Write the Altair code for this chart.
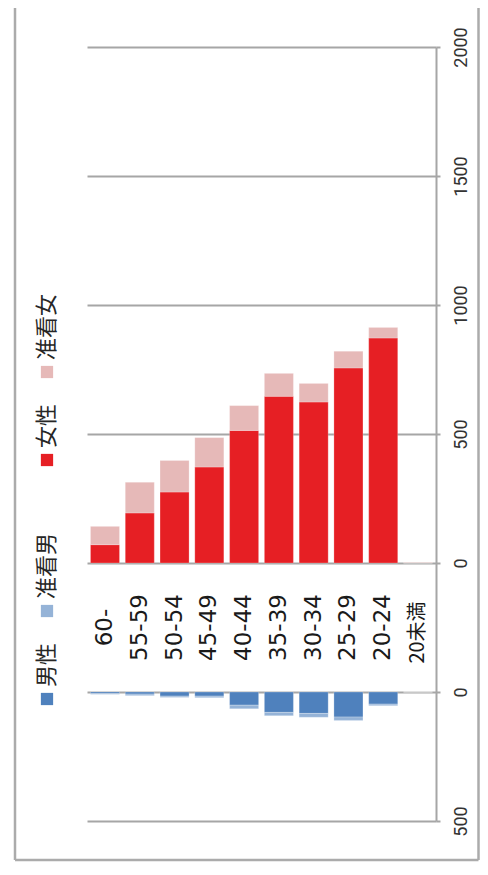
import altair as alt
import pandas as pd

# ---- data ----
ages = ["60-", "55-59", "50-54", "45-49", "40-44", "35-39", "30-34", "25-29", "20-24", "20未満"]
female = [71, 194, 275, 372, 514, 646, 624, 756, 872, 0]          # 女性
female_assoc = [71, 119, 122, 114, 96, 89, 72, 65, 41, 2]          # 准看女
male = [6, 8, 16, 16, 51, 79, 83, 97, 47, 0]                        # 男性
male_assoc = [3, 6, 5, 6, 14, 13, 15, 13, 6, 0]                     # 准看男

series = ["男性", "准看男", "女性", "准看女"]
colors = ["#4F81BD", "#95B3D7", "#E61F24", "#E6B9B8"]
tick_values = [-1000, -500, 0, 500, 1000, 1500, 2000]

GAP = 500  # gap (in value units) between the two panels, holding the age labels

rows = []
for a, f, fa, m, ma in zip(ages, female, female_assoc, male, male_assoc):
    rows.append({"age": a, "series": "女性", "v0": 0, "v1": f})
    rows.append({"age": a, "series": "准看女", "v0": f, "v1": f + fa})
    rows.append({"age": a, "series": "男性", "v0": -GAP, "v1": -GAP - m})
    rows.append({"age": a, "series": "准看男", "v0": -GAP - m, "v1": -GAP - m - ma})
df = pd.DataFrame(rows)
labels_df = pd.DataFrame({"age": ages})

W, H = 349, 774
GRID = "#A6A6A6"

x_enc = alt.X("age:N", sort=ages, axis=None,
              scale=alt.Scale(paddingInner=0.165, paddingOuter=0.1))
y_scale = alt.Scale(domain=[-1000, 2000], nice=False, zero=False)

bars = alt.Chart(df).mark_bar(stroke="white", strokeWidth=0.4, strokeOpacity=0.6).encode(
    x=x_enc,
    y=alt.Y("v0:Q", scale=y_scale,
            axis=alt.Axis(orient="right", values=tick_values, title=None,
                          labelExpr="datum.value < 0 ? format(-datum.value - 500, 'd') : format(datum.value, 'd')",
                          grid=True, gridColor=GRID, gridWidth=2,
                          domainColor=GRID, domainWidth=2,
                          tickColor=GRID, tickWidth=2, tickSize=4,
                          labelAngle=270, labelAlign="center", labelBaseline="middle",
                          labelPadding=21, labelFont="Roboto", labelFontSize=18,
                          labelColor="#333333")),
    y2="v1:Q",
    color=alt.Color("series:N", scale=alt.Scale(domain=series, range=colors), legend=None),
)

age_text = alt.Chart(labels_df).transform_filter(
    alt.datum.age != "20未満"
).mark_text(angle=270, align="center", baseline="middle", font="DejaVu Sans",
            fontSize=23, color="#1A1A1A").encode(
    x=x_enc, y=alt.datum(-GAP / 2), text="age:N")

age_text_small = alt.Chart(labels_df).transform_filter(
    alt.datum.age == "20未満"
).mark_text(angle=270, align="center", baseline="middle", font="Noto Sans CJK JP",
            fontSize=20, color="#1A1A1A", dx=-5).encode(
    x=x_enc, y=alt.datum(-GAP / 2), text="age:N")

# ---- manual rotated legend (layout positions in plot pixels) ----
legend_x = -40
legend_sym_y = [652, 564, 413, 325]
layers = [bars, age_text, age_text_small]
for name, col, sy in zip(series, colors, legend_sym_y):
    layers.append(alt.Chart(pd.DataFrame({"s": [name]})).mark_square(size=150, color=col, opacity=1).encode(
        x=alt.value(legend_x), y=alt.value(sy)))
    layers.append(alt.Chart(pd.DataFrame({"s": [name]})).mark_text(
        angle=270, align="left", baseline="middle", font="Noto Sans CJK JP",
        fontSize=22, color="#262626").encode(
        x=alt.value(legend_x), y=alt.value(sy - 12), text="s:N"))

# ---- outer frame ----
FRAME = "#ABABAB"
FR_L, FR_R, FR_B = -72, 391.5, 813
frame_df = pd.DataFrame({"k": [0]})
layers.append(alt.Chart(frame_df).mark_rule(color=FRAME, strokeWidth=2.5).encode(
    x=alt.value(FR_L), y=alt.value(-60), y2=alt.value(FR_B)))
layers.append(alt.Chart(frame_df).mark_rule(color=FRAME, strokeWidth=2.5).encode(
    x=alt.value(FR_R), y=alt.value(-60), y2=alt.value(FR_B)))
layers.append(alt.Chart(frame_df).mark_rule(color=FRAME, strokeWidth=2.5).encode(
    x=alt.value(FR_L), x2=alt.value(FR_R), y=alt.value(FR_B)))

chart = alt.layer(*layers).properties(
    width=W, height=H,
    padding={"left": 79, "top": 39, "right": 44, "bottom": 41},
    autosize=alt.AutoSizeParams(type="none"),
).configure(background="white").configure_view(stroke=None)

chart.save("out.html", embed_options={"renderer": "svg", "actions": False})
